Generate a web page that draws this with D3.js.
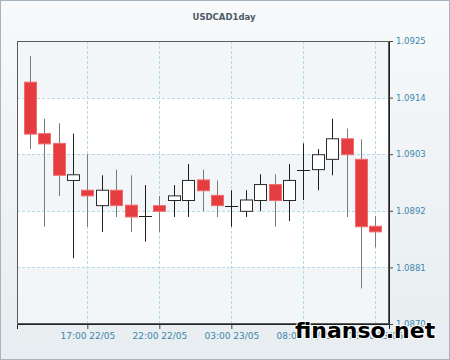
<!DOCTYPE html>
<html>
<head>
<meta charset="utf-8">
<script src="https://cdn.jsdelivr.net/npm/d3@7"></script>
<style>
  html, body { margin: 0; padding: 0; background: #fff; }
  svg { display: block; }
</style>
</head>
<body>
<div id="chart"></div>
<script>
// hourly candles, 13:00 22/05 .. 13:00 23/05
const hours = ["2014-05-22T13:00", "2014-05-22T14:00", "2014-05-22T15:00", "2014-05-22T16:00", "2014-05-22T17:00",
  "2014-05-22T18:00", "2014-05-22T19:00", "2014-05-22T20:00", "2014-05-22T21:00", "2014-05-22T22:00",
  "2014-05-22T23:00", "2014-05-23T00:00", "2014-05-23T01:00", "2014-05-23T02:00", "2014-05-23T03:00",
  "2014-05-23T04:00", "2014-05-23T05:00", "2014-05-23T06:00", "2014-05-23T07:00", "2014-05-23T08:00",
  "2014-05-23T09:00", "2014-05-23T10:00", "2014-05-23T11:00", "2014-05-23T12:00", "2014-05-23T13:00"];
const open  = [1.09170, 1.09070, 1.09051, 1.08979, 1.08960, 1.08930, 1.08960, 1.08931, 1.08909, 1.08930,
  1.08940, 1.08940, 1.08980, 1.08950, 1.08930, 1.08919, 1.08940, 1.08971, 1.08940, 1.09000,
  1.09000, 1.09020, 1.09060, 1.09020, 1.08890];
const high  = [1.09221, 1.09099, 1.09090, 1.09070, 1.09030, 1.08989, 1.09000, 1.08989, 1.08970, 1.08949,
  1.08970, 1.09011, 1.09000, 1.08979, 1.08960, 1.08960, 1.08991, 1.08991, 1.09011, 1.09051,
  1.09040, 1.09099, 1.09080, 1.09059, 1.08910];
const low   = [1.09040, 1.08889, 1.08949, 1.08828, 1.08889, 1.08879, 1.08908, 1.08879, 1.08860, 1.08879,
  1.08908, 1.08908, 1.08919, 1.08908, 1.08889, 1.08908, 1.08919, 1.08889, 1.08900, 1.08941,
  1.08960, 1.08989, 1.08908, 1.08769, 1.08849];
const close = [1.09069, 1.09050, 1.08989, 1.08990, 1.08949, 1.08960, 1.08930, 1.08908, 1.08909, 1.08919,
  1.08949, 1.08979, 1.08959, 1.08930, 1.08930, 1.08941, 1.08971, 1.08940, 1.08979, 1.09000,
  1.09029, 1.09060, 1.09029, 1.08889, 1.08879];

const yTicks = [1.0870, 1.0881, 1.0892, 1.0903, 1.0914, 1.0925];
const xTicks = ["2014-05-22T17:00", "2014-05-22T22:00", "2014-05-23T03:00", "2014-05-23T08:00", "2014-05-23T13:00"];
const title = "USDCAD1day";

const W = 450, H = 360;
const margin = {top: 41, right: 61, bottom: 36, left: 17};
const width = W - margin.left - margin.right;
const height = H - margin.top - margin.bottom;

const parse = d3.utcParse("%Y-%m-%dT%H:%M");
const data = hours.map((h, i) => ({
  t: parse(h), o: open[i], h: high[i], l: low[i], c: close[i]
}));

const svg = d3.select("#chart").append("svg")
  .attr("width", W).attr("height", H);

const defs = svg.append("defs");
const grad = defs.append("linearGradient").attr("id", "bg")
  .attr("x1", 0).attr("y1", 0).attr("x2", 0).attr("y2", 1);
grad.append("stop").attr("offset", "0%").attr("stop-color", "#f7f9fa");
grad.append("stop").attr("offset", "100%").attr("stop-color", "#e7edf0");

// outer panel
svg.append("rect")
  .attr("x", 0.5).attr("y", 0.5).attr("width", W - 1).attr("height", H - 1)
  .attr("fill", "url(#bg)").attr("stroke", "#a7b4bd");

svg.append("text")
  .attr("x", 224).attr("y", 20)
  .attr("text-anchor", "middle")
  .attr("font-family", "DejaVu Sans, sans-serif")
  .attr("font-size", 8.5).attr("font-weight", "bold")
  .attr("fill", "#4c5a66")
  .text(title);

const g = svg.append("g")
  .attr("transform", `translate(${margin.left},${margin.top})`);

// x scale (time)
const x = d3.scaleUtc()
  .domain([parse("2014-05-22T12:07"), parse("2014-05-23T13:57")])
  .range([0, width]);

const y = d3.scaleLinear()
  .domain([yTicks[0], yTicks[yTicks.length - 1]])
  .range([height, 0]);

// alternating bands
const bands = d3.pairs(yTicks);
g.selectAll("rect.band")
  .data(bands)
  .join("rect")
  .attr("class", "band")
  .attr("x", 0)
  .attr("y", d => y(d[1]))
  .attr("width", width)
  .attr("height", d => y(d[0]) - y(d[1]))
  .attr("fill", (d, i) => i % 2 === 0 ? "#f3f6f8" : "#ffffff");

// grid
g.selectAll("line.hgrid")
  .data(yTicks.slice(1, -1))
  .join("line")
  .attr("class", "hgrid")
  .attr("x1", 0).attr("x2", width)
  .attr("y1", d => Math.round(y(d)) + 0.5).attr("y2", d => Math.round(y(d)) + 0.5)
  .attr("stroke", "#b4dbe5").attr("stroke-dasharray", "3,2");

g.selectAll("line.vgrid")
  .data(xTicks.map(parse))
  .join("line")
  .attr("class", "vgrid")
  .attr("x1", d => Math.round(x(d)) + 0.5).attr("x2", d => Math.round(x(d)) + 0.5)
  .attr("y1", 0).attr("y2", height)
  .attr("stroke", "#b4dbe5").attr("stroke-dasharray", "3,2");

// candles
const bodyW = 12;
const candle = g.selectAll("g.candle")
  .data(data)
  .join("g")
  .attr("class", "candle")
  .attr("transform", d => `translate(${Math.round(x(d.t))},0)`);

candle.append("line")
  .attr("x1", 0.5).attr("x2", 0.5)
  .attr("y1", d => y(d.h)).attr("y2", d => y(d.l))
  .attr("stroke", d => d.c < d.o ? "#7a7a7a" : "#1e1e1e");

candle.filter(d => Math.abs(d.c - d.o) > 0.00003)
  .append("rect")
  .attr("x", -bodyW / 2 + 0.5)
  .attr("width", bodyW)
  .attr("y", d => y(Math.max(d.o, d.c)))
  .attr("height", d => y(Math.min(d.o, d.c)) - y(Math.max(d.o, d.c)))
  .attr("fill", d => d.c < d.o ? "#e43c3f" : "#ffffff")
  .attr("stroke", d => d.c < d.o ? "#ef6d6f" : "#2a2a2a")
  .attr("stroke-width", 1);

candle.filter(d => Math.abs(d.c - d.o) <= 0.00003)
  .append("line")
  .attr("x1", -bodyW / 2).attr("x2", bodyW / 2 + 1)
  .attr("y1", d => Math.round(y(d.o)) + 0.5).attr("y2", d => Math.round(y(d.o)) + 0.5)
  .attr("stroke", "#1e1e1e");

// frame
g.append("rect")
  .attr("x", 0.5).attr("y", 0.5)
  .attr("width", width - 1).attr("height", height - 1)
  .attr("fill", "none").attr("stroke", "#5a5a5a");

// axes
const fmtTime = d3.utcFormat("%H:%M %d/%m");
const xAxis = g.append("g")
  .attr("transform", `translate(0,${height})`)
  .call(d3.axisBottom(x).tickValues(xTicks.map(parse)).tickFormat(fmtTime)
    .tickSize(5).tickSizeOuter(5).tickPadding(4));

const yAxis = g.append("g")
  .attr("transform", `translate(${width},0)`)
  .call(d3.axisRight(y).tickValues(yTicks).tickFormat(d3.format(".4f"))
    .tickSize(4).tickSizeOuter(0).tickPadding(3));

[xAxis, yAxis].forEach(a => {
  a.select(".domain").attr("stroke", "#222");
  a.selectAll(".tick line").attr("stroke", "#444");
  a.selectAll(".tick text")
    .attr("fill", "#3b87ac")
    .attr("font-family", "DejaVu Sans, sans-serif")
    .attr("font-size", 9);
});
yAxis.selectAll(".tick text").attr("font-size", 8.5);

// watermark
svg.append("text")
  .attr("x", 295).attr("y", 338)
  .attr("font-family", "DejaVu Sans, sans-serif")
  .attr("font-size", 22).attr("font-weight", "bold")
  .attr("fill", "#000")
  .attr("stroke", "#ffffff").attr("stroke-width", 2).attr("paint-order", "stroke")
  .text("finanso.net");
</script>
</body>
</html>
